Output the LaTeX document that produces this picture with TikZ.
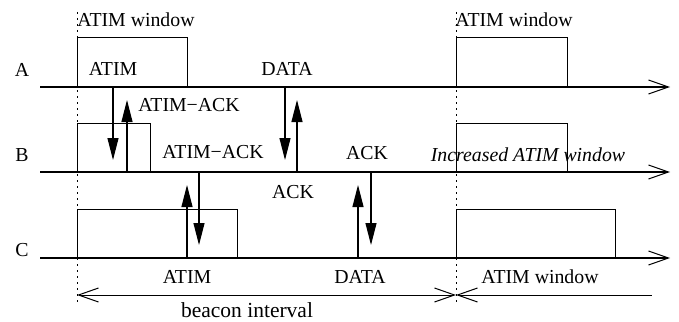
\documentclass[tikz,border=0pt]{standalone}
\usepackage{fontspec}
\setmainfont{Liberation Serif}
\usetikzlibrary{arrows.meta}
\begin{document}
\begin{tikzpicture}[x=1pt,y=-1pt,
  ln/.style={line width=1pt},
  barb/.tip={Straight Barb[length=20pt,width=14pt,line width=1pt]},
  timeline/.style={line width=1.2pt,-barb},
  msg/.style={line width=1.1pt,-{Triangle[length=22pt,width=11pt]}},
  vdot/.style={line width=1pt,dash pattern=on 2pt off 4pt},
  lbl/.style={font=\fontsize{19.8}{22}\selectfont,inner sep=0pt},
  ilbl/.style={lbl,font=\fontsize{19.8}{22}\selectfont\itshape}]
\useasboundingbox (0,0) rectangle (679,321);
% beacon boundaries
\coordinate (d1t) at (77,12);  \coordinate (d1b) at (77,305);
\coordinate (d2t) at (456,12); \coordinate (d2b) at (456,305);
\draw[vdot] (d1t) -- (d1b);
\draw[vdot] (d2t) -- (d2b);
% timelines
\coordinate (As) at (40,87);  \coordinate (Ae) at (670,87);
\coordinate (Bs) at (40,172); \coordinate (Be) at (670,172);
\coordinate (Cs) at (40,258); \coordinate (Ce) at (670,258);
\draw[timeline] (As) -- (Ae);
\draw[timeline] (Bs) -- (Be);
\draw[timeline] (Cs) -- (Ce);
% station labels
\node[lbl] (lA) at (22,70) {A};
\node[lbl] (lB) at (22,155) {B};
\node[lbl] (lC) at (22,250) {C};
% ATIM window boxes
\draw[ln] (77,87) -- (77,38) -- (187,38) -- (187,87);
\draw[ln] (456,87) -- (456,38) -- (567,38) -- (567,87);
\draw[ln] (77,172) -- (77,123) -- (150,123) -- (150,172);
\draw[ln] (456,172) -- (456,123) -- (567,123) -- (567,172);
\draw[ln] (77,258) -- (77,209) -- (237,209) -- (237,258);
\draw[ln] (456,258) -- (456,209) -- (615,209) -- (615,258);
% texts
\node[lbl] (w1) at (136,20) {ATIM window};
\node[lbl] (w2) at (514,20) {ATIM window};
\node[lbl] (t1) at (113,69) {ATIM};
\node[lbl] (t2) at (287,69) {DATA};
\node[lbl] (t3) at (189,105) {ATIM−ACK};
\node[lbl] (t4) at (213,152) {ATIM−ACK};
\node[lbl] (t5) at (367,153) {ACK};
\node[ilbl] (t6) at (528,155) {Increased ATIM window};
\node[lbl] (t7) at (293,192) {ACK};
\node[lbl] (t8) at (187,277) {ATIM};
\node[lbl] (t9) at (360,277) {DATA};
\node[lbl] (w3) at (540,277) {ATIM window};
\node[lbl,font=\fontsize{21.5}{24}\selectfont] (bi) at (247,310) {beacon interval};
% messages
\coordinate (m1s) at (113,87);  \coordinate (m1e) at (113,160);
\coordinate (m2s) at (127,172); \coordinate (m2e) at (127,100);
\coordinate (m3s) at (285,87);  \coordinate (m3e) at (285,160);
\coordinate (m4s) at (297,172); \coordinate (m4e) at (297,100);
\coordinate (m5s) at (199,172); \coordinate (m5e) at (199,245);
\coordinate (m6s) at (187,258); \coordinate (m6e) at (187,185);
\coordinate (m7s) at (371,172); \coordinate (m7e) at (371,245);
\coordinate (m8s) at (358,258); \coordinate (m8e) at (358,185);
\draw[msg] (m1s) -- (m1e);
\draw[msg] (m2s) -- (m2e);
\draw[msg] (m3s) -- (m3e);
\draw[msg] (m4s) -- (m4e);
\draw[msg] (m5s) -- (m5e);
\draw[msg] (m6s) -- (m6e);
\draw[msg] (m7s) -- (m7e);
\draw[msg] (m8s) -- (m8e);
% beacon interval
\coordinate (b1) at (77,295); \coordinate (b2) at (456,295); \coordinate (b3) at (652,295);
\draw[ln,barb-barb] (b1) -- (b2);
\draw[ln,barb-] (b2) -- (b3);
\end{tikzpicture}
\end{document}
